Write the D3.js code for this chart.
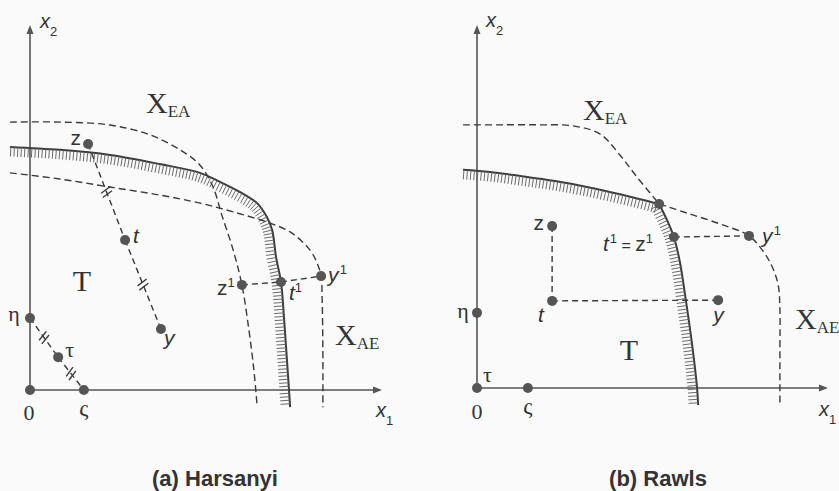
<!DOCTYPE html>
<html><head><meta charset="utf-8">
<script src="https://cdn.jsdelivr.net/npm/d3@7"></script>
<style>body{margin:0;background:#fafafa}svg{display:block}</style>
</head><body><svg id="c" width="839" height="491"></svg>
<script>
// ---------- DATA (abstract units, both axes 0..100) ----------
// Panel (a) Harsanyi
const frontierA = [[-5.7,66.6],[8.5,65.8],[22.7,64.4],[36.9,61.9],[48.3,59.5],[54.0,57.0],[59.7,54.2],[64.5,51.2],[67.3,47.4],[68.8,43.8],[69.9,36.4],[71.3,29.6],[72.2,19.2],[73.0,8.2],[73.9,-4.7]];
const xeaA = [[-5.7,73.4],[8.5,73.4],[22.7,72.6],[34.1,69.9],[42.6,65.8],[48.3,61.6],[52.0,55.6],[54.5,47.9],[57.7,38.4],[60.2,28.8],[62.2,16.4],[63.6,5.5],[64.5,-4.1]];
const xaeA = [[-5.7,59.5],[8.5,57.8],[22.7,55.6],[36.9,53.4],[48.3,51.2],[57.7,48.8],[67.3,46.0],[73.9,43.3],[79.5,38.4],[81.8,34.2],[82.7,31.2],[83.0,24.7],[83.2,11.0],[83.2,-4.7]];
const pointsA = [
  {id:"0", x:0, y:0}, {id:"ς", x:15.3, y:0}, {id:"η", x:0, y:19.7}, {id:"τ", x:8.0, y:9.0},
  {id:"z", x:16.5, y:67.4}, {id:"t", x:27.0, y:41.1}, {id:"y", x:37.2, y:16.7},
  {id:"z1", x:60.2, y:28.8}, {id:"t1", x:71.3, y:29.6}, {id:"y1", x:82.7, y:31.2}
];
const segmentsA = [["η","τ",true],["τ","ς",true],["z","t",true],["t","y",true],["z1","t1",false],["t1","y1",false]];

// Panel (b) Rawls
const frontierTopB = [[-4.0,60.1],[3.7,59.5],[12.3,58.4],[22.2,57.0],[31.3,55.4],[40.7,53.4],[51.9,50.7]];
const frontierBotB = [[51.9,50.7],[54.4,45.7],[56.1,41.6],[57.8,34.7],[59.5,24.2],[61.3,11.8],[62.7,0],[63.0,-4.7]];
const xeaB = [[-4.0,72.5],[6.6,72.5],[17.9,72.5],[27.4,72.2],[35.0,70.0],[40.7,64.2],[45.6,58.1],[51.9,50.7]];
const xaeB = [[51.9,50.7],[59.8,48.2],[69.2,45.2],[77.5,41.9],[81.5,37.7],[84.0,33.6],[85.8,28.4],[86.3,21.5],[86.3,10.5],[86.3,-4.7]];
const pointsB = [
  {id:"0", x:0, y:0}, {id:"ς", x:14.5, y:0}, {id:"η", x:0, y:20.7},
  {id:"z", x:21.4, y:44.6}, {id:"t", x:21.4, y:24.0}, {id:"y", x:68.7, y:24.2},
  {id:"t1", x:56.1, y:41.6}, {id:"y1", x:77.5, y:41.9}, {id:"k", x:51.9, y:50.7}
];
const segmentsB = [["z","t",false],["t","y",false],["t1","y1",false]];

// ---------- DRAWING ----------
const svg = d3.select("#c");
svg.append("rect").attr("width",839).attr("height",491).attr("fill","#fafafa");
const INK = "#3a3a3a", DOT = "#555";
const SERIF = "'Liberation Serif','Times New Roman',serif";
const SANS = "'Liberation Sans',Arial,sans-serif";
const line = d3.line().curve(d3.curveCatmullRom.alpha(0.5));

function hatch(g, node, len, step){
  const L = node.getTotalLength();
  for(let s=1; s<L-0.5; s+=step){
    const p = node.getPointAtLength(s);
    const a = node.getPointAtLength(Math.max(0,s-0.7)), b = node.getPointAtLength(Math.min(L,s+0.7));
    let tx=b.x-a.x, ty=b.y-a.y; const n=Math.hypot(tx,ty)||1; tx/=n; ty/=n;
    g.append("line").attr("x1",p.x).attr("y1",p.y)
      .attr("x2",p.x-ty*len).attr("y2",p.y+tx*len)
      .attr("stroke","#6a6a6a").attr("stroke-width",1);
  }
}

function drawPanel(cfg){
  const g = svg.append("g");
  const x = d3.scaleLinear().domain([0,100]).range([cfg.ox, cfg.xEnd]);
  const y = d3.scaleLinear().domain([0,100]).range([cfg.oy, cfg.yTop]);
  const P = d => [x(d[0]), y(d[1])];
  // axes
  g.append("line").attr("x1",x(0)).attr("y1",y(0)).attr("x2",x(0)).attr("y2",y(100)+6).attr("stroke","#555").attr("stroke-width",1.6);
  g.append("line").attr("x1",x(0)).attr("y1",y(0)).attr("x2",x(100)-6).attr("y2",y(0)).attr("stroke","#555").attr("stroke-width",1.6);
  g.append("path").attr("d",`M${x(0)},${y(100)} l-3.5,9 l7,0 z`).attr("fill","#555");
  g.append("path").attr("d",`M${x(100)},${y(0)} l-9,-3.5 l0,7 z`).attr("fill","#555");
  // frontier(s) with hatching
  cfg.frontiers.forEach(f => {
    const path = g.append("path").attr("d", line(f.map(P))).attr("fill","none").attr("stroke",INK).attr("stroke-width",2);
    hatch(g, path.node(), 9.5, 3.5);
  });
  // dashed curves
  cfg.dashed.forEach(c => {
    g.append("path").attr("d", line(c.map(P))).attr("fill","none").attr("stroke",INK)
      .attr("stroke-width",1.4).attr("stroke-dasharray","7,4");
  });
  const pt = {}; cfg.points.forEach(p => pt[p.id] = [x(p.x), y(p.y)]);
  // segments
  cfg.segments.forEach(([a,b,marks]) => {
    const A = pt[a], B = pt[b];
    g.append("line").attr("x1",A[0]).attr("y1",A[1]).attr("x2",B[0]).attr("y2",B[1])
      .attr("stroke",INK).attr("stroke-width",1.4).attr("stroke-dasharray","6,4");
    if(marks){
      const mx=(A[0]+B[0])/2, my=(A[1]+B[1])/2;
      let tx=B[0]-A[0], ty=B[1]-A[1]; const n=Math.hypot(tx,ty); tx/=n; ty/=n;
      [-2.3,2.3].forEach(o => {
        const cx=mx+tx*o, cy=my+ty*o;
        const nx=-ty, ny=tx, r=5.5;
        g.append("line").attr("x1",cx+nx*r+tx*1.5).attr("y1",cy+ny*r+ty*1.5)
          .attr("x2",cx-nx*r-tx*1.5).attr("y2",cy-ny*r-ty*1.5)
          .attr("stroke",INK).attr("stroke-width",1.4);
      });
    }
  });
  // dots
  cfg.points.forEach(p => {
    g.append("circle").attr("cx",x(p.x)).attr("cy",y(p.y)).attr("r",5).attr("fill",DOT);
  });
  // labels
  cfg.labels.forEach(l => {
    const base = l.at ? pt[l.at] : [0,0];
    const t = g.append("text").attr("x",base[0]+l.dx).attr("y",base[1]+l.dy)
      .attr("text-anchor",l.anchor||"start").attr("fill","#333")
      .attr("font-family",l.font||SERIF).attr("font-size",l.size||22)
      .attr("font-style",l.italic?"italic":"normal").attr("font-weight",l.bold?"bold":"normal");
    l.parts.forEach(pp => {
      const ts = t.append("tspan").text(pp.t);
      if(pp.size) ts.attr("font-size",pp.size);
      if(pp.dy) ts.attr("dy",pp.dy);
      if(pp.italic!==undefined) ts.attr("font-style",pp.italic?"italic":"normal");
      if(pp.font) ts.attr("font-family",pp.font);
    });
  });
}

const sup = (s) => ({t:s, size:13, dy:-8, italic:false});
drawPanel({
  ox:30, xEnd:382, oy:390, yTop:25,
  frontiers:[frontierA], dashed:[xeaA, xaeA], points:pointsA, segments:segmentsA,
  labels:[
    {at:"0", dx:-1, dy:30, anchor:"middle", parts:[{t:"0"}]},
    {at:"ς", dx:0, dy:26, anchor:"middle", size:23, parts:[{t:"ς"}]},
    {at:"η", dx:-16, dy:3, anchor:"middle", parts:[{t:"η"}]},
    {at:"τ", dx:7, dy:0, parts:[{t:"τ"}]},
    {at:"z", dx:-7, dy:1, anchor:"end", font:SANS, size:21, parts:[{t:"z"}]},
    {at:"t", dx:8, dy:3, font:SANS, italic:true, size:21, parts:[{t:"t"}]},
    {at:"y", dx:3, dy:16, font:SANS, italic:true, size:21, parts:[{t:"y"}]},
    {at:"z1", dx:-25, dy:10, font:SANS, size:21, parts:[{t:"z"}, sup("1")]},
    {at:"t1", dx:8, dy:18, font:SANS, italic:true, size:21, parts:[{t:"t"}, sup("1")]},
    {at:"y1", dx:7, dy:6, font:SANS, italic:true, size:21, parts:[{t:"y"}, {t:" ", size:4}, sup("1")]},
    {dx:82, dy:291, anchor:"middle", size:30, parts:[{t:"T"}]},
    {dx:146, dy:113, size:30, parts:[{t:"X"},{t:"EA", size:17, dy:4}]},
    {dx:335, dy:345, size:30, parts:[{t:"X"},{t:"AE", size:17, dy:4}]},
    {dx:40, dy:28, font:SANS, italic:true, size:20, parts:[{t:"x"},{t:"2", size:13, dy:8, italic:false}]},
    {dx:376, dy:417, font:SANS, italic:true, size:20, parts:[{t:"x"},{t:"1", size:13, dy:8, italic:false}]},
    {dx:215, dy:486, anchor:"middle", font:SANS, bold:true, size:22, parts:[{t:"(a) Harsanyi"}]}
  ]
});
drawPanel({
  ox:477, xEnd:828, oy:388, yTop:25,
  frontiers:[frontierTopB, frontierBotB], dashed:[xeaB, xaeB], points:pointsB, segments:segmentsB,
  labels:[
    {at:"0", dx:0, dy:31, anchor:"middle", parts:[{t:"0"}]},
    {at:"ς", dx:0, dy:26, anchor:"middle", size:23, parts:[{t:"ς"}]},
    {at:"η", dx:-14, dy:5, anchor:"middle", parts:[{t:"η"}]},
    {at:"0", dx:6, dy:-6, parts:[{t:"τ"}]},
    {at:"z", dx:-8, dy:4, anchor:"end", font:SANS, size:21, parts:[{t:"z"}]},
    {at:"t", dx:-14, dy:21, font:SANS, italic:true, size:21, parts:[{t:"t"}]},
    {at:"y", dx:-5, dy:22, font:SANS, italic:true, size:21, parts:[{t:"y"}]},
    {at:"t1", dx:-21, dy:14, anchor:"end", font:SANS, italic:true, size:21, parts:[{t:"t"}, {t:" ", size:3}, sup("1"), {t:" = ", size:16, dy:8, italic:false}, {t:"z", italic:false, size:21}, sup("1")]},
    {at:"y1", dx:13, dy:7, font:SANS, italic:true, size:21, parts:[{t:"y"}, {t:" ", size:4}, sup("1")]},
    {dx:629, dy:360, anchor:"middle", size:30, parts:[{t:"T"}]},
    {dx:583, dy:120, size:30, parts:[{t:"X"},{t:"EA", size:17, dy:4}]},
    {dx:795, dy:329, size:30, parts:[{t:"X"},{t:"AE", size:17, dy:4}]},
    {dx:486, dy:27, font:SANS, italic:true, size:20, parts:[{t:"x"},{t:"2", size:13, dy:8, italic:false}]},
    {dx:819, dy:416, font:SANS, italic:true, size:20, parts:[{t:"x"},{t:"1", size:13, dy:8, italic:false}]},
    {dx:658, dy:486, anchor:"middle", font:SANS, bold:true, size:22, parts:[{t:"(b) Rawls"}]}
  ]
});
</script></body></html>
